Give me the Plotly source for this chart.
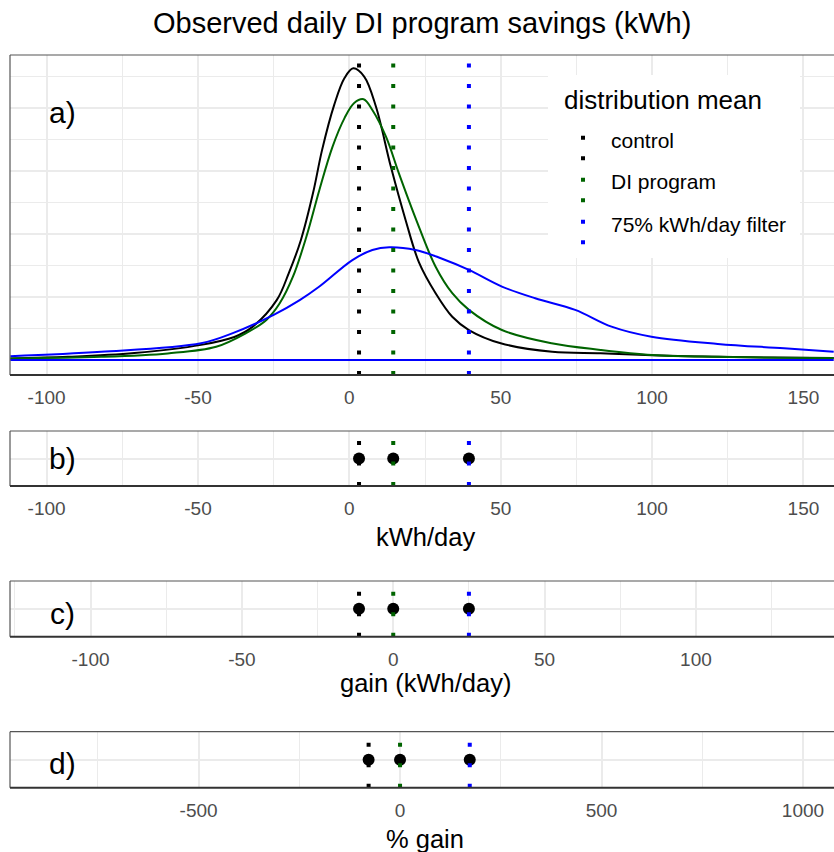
import plotly.graph_objects as go

W, H = 834, 852
FONT = "Liberation Sans"

# ---- data -------------------------------------------------------------
groups = ["control", "DI program", "75% kWh/day filter"]
colors = ["#000000", "#006400", "#0000FF"]

# distribution means (kWh/day), gain relative to DI program, % gain
mean_kwh = [3.2, 14.5, 39.5]
gain_kwh = [-11.3, 0.0, 25.0]
pct_gain = [-78, 0, 173]

# kernel density estimates of daily savings (kWh/day -> density)
ctrl_x = [-112, -93, -71, -49, -38, -32, -24, -20, -16, -12, -9, -5, -1.6, 1.3,
          4.9, 8.8, 13.7, 18.6, 23, 28.5, 34, 39.5, 50, 67, 83, 100, 122, 140, 160]
ctrl_d = [0.000125, 0.00025, 0.00055, 0.0012, 0.00183, 0.00263, 0.00475, 0.0069,
          0.00953, 0.01325, 0.01668, 0.02025, 0.02238, 0.02315, 0.0225, 0.0201,
          0.01535, 0.0111, 0.00775, 0.0053, 0.00343, 0.00238, 0.00133, 0.00065,
          0.00053, 0.00038, 0.00025, 0.0002, 0.00015]

prog_x = [-112, -82, -60, -44, -34, -27.4, -23, -18.6, -14.2, -9.9, -5.6, -1.6, 1.6,
          4.7, 7.6, 12.1, 16.4, 21.9, 28.5, 34, 39.5, 50.4, 66.8, 83, 100, 122, 160]
prog_d = [0.000125, 0.00025, 0.000525, 0.00105, 0.00215, 0.00318, 0.0045, 0.00663,
          0.00978, 0.0135, 0.0169, 0.0192, 0.0204, 0.0207, 0.01985, 0.01773, 0.0148,
          0.01125, 0.0074, 0.0053, 0.00398, 0.00238, 0.00133, 0.0008, 0.0004,
          0.00025, 0.00015]

filt_x = [-112, -82, -49, -38.5, -25, -16.4, -9.9, 1, 7.6, 13.2, 21.9, 30, 39.5,
          50.4, 61.4, 74.6, 86.6, 99.8, 121.7, 143.6, 160]
filt_d = [0.0003, 0.00065, 0.00133, 0.00213, 0.00358, 0.00475, 0.00583, 0.00793,
          0.00873, 0.00895, 0.00873, 0.0081, 0.00715, 0.00583, 0.0049, 0.00398,
          0.00265, 0.00185, 0.00128, 0.00093, 0.00065]

kwh_ticks = [-100, -50, 0, 50, 100, 150]
kwh_labels = ["-100", "-50", "0", "50", "100", "150"]
kwh_minor = [-75, -25, 25, 75, 125]
gain_ticks = [-100, -50, 0, 50, 100]
gain_labels = ["-100", "-50", "0", "50", "100"]
gain_minor = [-125, -75, -25, 25, 75, 125]
pct_ticks = [-500, 0, 500, 1000]
pct_labels = ["-500", "0", "500", "1000"]
pct_minor = [-750, -250, 250, 750]
dens_ticks = [0, 0.005, 0.01, 0.015, 0.02]
dens_minor = [0.0025, 0.0075, 0.0125, 0.0175, 0.0225]


# ---- helpers ----------------------------------------------------------
def fx(p):
    return p / W


def fy(p):
    return 1 - p / H


X_DOM = [fx(10), 1.0]
panels = {
    "a": dict(top=55, bottom=375, rng=[-112.1, 160.1], ticks=kwh_ticks,
              labels=kwh_labels, minor=kwh_minor),
    "b": dict(top=431, bottom=486, rng=[-112.1, 160.1], ticks=kwh_ticks,
              labels=kwh_labels, minor=kwh_minor),
    "c": dict(top=581, bottom=636.7, rng=[-126.6, 145.6], ticks=gain_ticks,
              labels=gain_labels, minor=gain_minor),
    "d": dict(top=731.7, bottom=787.7, rng=[-968, 1077], ticks=pct_ticks,
              labels=pct_labels, minor=pct_minor),
}
GRID = "#EBEBEB"

fig = go.Figure()

# density curves (panel a)
for xs, ds, col in [(ctrl_x, ctrl_d, colors[0]), (prog_x, prog_d, colors[1]),
                    (filt_x, filt_d, colors[2])]:
    fig.add_trace(go.Scatter(x=xs, y=ds, mode="lines", xaxis="x", yaxis="y",
                             line=dict(color=col, width=2, shape="spline", smoothing=1.0),
                             showlegend=False, hoverinfo="skip"))
# baseline of the last density outline
fig.add_trace(go.Scatter(x=[filt_x[0], filt_x[-1]], y=[0, 0], mode="lines",
                         xaxis="x", yaxis="y", line=dict(color=colors[2], width=2),
                         showlegend=False, hoverinfo="skip"))

# mean points (panels b-d)
for vals, ax in [(mean_kwh, "2"), (gain_kwh, "3"), (pct_gain, "4")]:
    fig.add_trace(go.Scatter(x=vals, y=[1] * len(vals), mode="markers",
                             xaxis="x" + ax, yaxis="y" + ax,
                             marker=dict(color="black", size=12),
                             showlegend=False, hoverinfo="skip"))

shapes = []
DOT = "4px,16.5px"
# dotted mean lines
for vals, ax in [(mean_kwh, ""), (mean_kwh, "2"), (gain_kwh, "3"), (pct_gain, "4")]:
    for v, col in zip(vals, colors):
        shapes.append(dict(type="line", xref="x" + ax, yref="y" + ax + " domain",
                           x0=v, x1=v, y0=0, y1=1, layer="above",
                           line=dict(color=col, width=4, dash=DOT)))

# panel frames (top, left, bottom)
for i, key in enumerate(["a", "b", "c", "d"]):
    s = "" if i == 0 else str(i + 1)
    xr, yr = "x" + s + " domain", "y" + s + " domain"
    shapes.append(dict(type="line", xref=xr, yref=yr, x0=0, x1=1, y0=1, y1=1,
                       layer="above", line=dict(color="#555555", width=1.2)))
    shapes.append(dict(type="line", xref=xr, yref=yr, x0=0, x1=0, y0=0, y1=1,
                       layer="above", line=dict(color="#555555", width=1.2)))
    shapes.append(dict(type="line", xref=xr, yref=yr, x0=0, x1=1, y0=0, y1=0,
                       layer="above", line=dict(color="#333333", width=2)))

# legend box and keys
shapes.append(dict(type="rect", xref="paper", yref="paper", x0=fx(548), x1=fx(800),
                   y0=fy(258), y1=fy(75), fillcolor="white", line=dict(width=0),
                   layer="above"))
leg_y = [148, 190, 232]
for col, yc in zip(colors, leg_y):
    shapes.append(dict(type="line", xref="paper", yref="paper", x0=fx(583), x1=fx(583),
                       y0=fy(yc + 12.3), y1=fy(yc - 12.3), layer="above",
                       line=dict(color=col, width=4, dash=DOT)))

annotations = []


def text(x, y, s, size, color="black", anchor="center"):
    annotations.append(dict(xref="paper", yref="paper", x=fx(x), y=fy(y), text=s,
                            showarrow=False, xanchor=anchor, yanchor="middle",
                            font=dict(family=FONT, size=size, color=color)))


text(421.5, 22.5, "Observed daily DI program savings (kWh)", 29)
text(562, 100, "distribution mean", 26, anchor="left")
for g, yc in zip(groups, [140, 182, 224]):
    text(609, yc, g, 21, anchor="left")
for lab, yc in zip(["a)", "b)", "c)", "d)"], [112, 458, 613, 763]):
    text(62, yc, lab, 30)
text(425, 537, "kWh/day", 25.5)
text(425, 682.5, "gain (kWh/day)", 25.5)
text(425, 838.5, "% gain", 25.5)

layout = dict(width=W, height=H, margin=dict(l=0, r=0, t=0, b=0),
              plot_bgcolor="white", paper_bgcolor="white",
              shapes=shapes, annotations=annotations, showlegend=False)

for i, key in enumerate(["a", "b", "c", "d"]):
    p = panels[key]
    s = "" if i == 0 else str(i + 1)
    layout["xaxis" + s] = dict(
        domain=X_DOM, range=p["rng"], anchor="y" + s, tickvals=p["ticks"],
        ticktext=p["labels"], ticks="", ticklabelstandoff=9,
        showline=False, zeroline=False, showgrid=True,
        gridcolor=GRID, gridwidth=1.5,
        minor=dict(tickvals=p["minor"], showgrid=True, gridcolor=GRID, gridwidth=1.2),
        tickfont=dict(family=FONT, size=19, color="#4D4D4D"), fixedrange=True)
    if key == "a":
        ycfg = dict(range=[-0.00119, 0.02421], tickvals=dens_ticks,
                    minor=dict(tickvals=dens_minor, showgrid=True, gridcolor=GRID,
                               gridwidth=1.2))
    else:
        ycfg = dict(range=[0, 2], tickvals=[1])
    ycfg.update(domain=[fy(p["bottom"]), fy(p["top"])], anchor="x" + s,
                showticklabels=False, ticks="", zeroline=False, showline=False,
                showgrid=True, gridcolor=GRID, gridwidth=1.5, fixedrange=True)
    layout["yaxis" + s] = ycfg

fig.update_layout(**layout)
fig.write_html("out.html")
